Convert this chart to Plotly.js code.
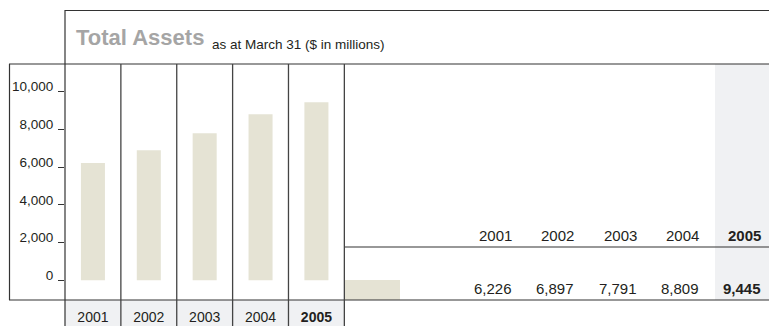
<!DOCTYPE html>
<html>
<head>
<meta charset="utf-8">
<script src="https://cdn.plot.ly/plotly-3.0.1.min.js"></script>
<style>html,body{margin:0;padding:0;background:#fff;}#chart{width:769px;height:326px;}</style>
</head>
<body>
<div id="chart"></div>
<script>
// ---- data ----
const years = ['2001', '2002', '2003', '2004', '2005'];
const totalAssets = [6226, 6897, 7791, 8809, 9445];
const valueLabels = ['6,226', '6,897', '7,791', '8,809', '9,445'];
const yTickVals = [0, 2000, 4000, 6000, 8000, 10000];
const yTickText = ['0', '2,000', '4,000', '6,000', '8,000', '10,000'];
const highlightYear = '2005';
const titleMain = 'Total Assets';
const titleSub = 'as at March 31 ($ in millions)';

// ---- helpers (pixel -> paper) ----
const W = 769, H = 326;
const px = x => x / W;
const py = y => 1 - y / H;

const BEIGE = '#e5e3d4';
const LIGHT = '#f0f1f3';
const LINE = '#333333';
const TEXT = '#231f20';
const SANS = '"Liberation Sans", Arial, Helvetica, sans-serif';

const boldIf = (s, y) => (y === highlightYear ? '<b>' + s + '</b>' : s);

const trace = {
  type: 'bar',
  x: years,
  y: totalAssets,
  width: 0.43,
  marker: { color: BEIGE, line: { width: 0 } },
  hoverinfo: 'x+y',
  showlegend: false
};

const shapes = [];
const hline = (x0, x1, y, color, w) => shapes.push({ type: 'line', xref: 'paper', yref: 'paper', x0: px(x0), x1: px(x1), y0: py(y), y1: py(y), line: { color: color || LINE, width: w || 1.2 } });
const vline = (x, y0, y1, color, w) => shapes.push({ type: 'line', xref: 'paper', yref: 'paper', x0: px(x), x1: px(x), y0: py(y0), y1: py(y1), line: { color: color || LINE, width: w || 1.2 } });
const rect = (x0, x1, y0, y1, fill) => shapes.push({ type: 'rect', xref: 'paper', yref: 'paper', layer: 'below', x0: px(x0), x1: px(x1), y0: py(y0), y1: py(y1), fillcolor: fill, line: { width: 0 } });

// background cells
rect(65, 345, 300, 326, LIGHT);
rect(715, 769, 64, 300, LIGHT);
// legend swatch
rect(345, 400, 280, 300, BEIGE);

// frame lines
hline(65, 769, 10.5);
vline(65, 10, 326);
hline(9, 769, 64);
vline(9.5, 64, 300);
hline(9, 769, 300);
hline(345, 769, 247);
// category separators (at category boundaries)
years.forEach((y, i) => {
  shapes.push({ type: 'line', xref: 'x', yref: 'paper', x0: i + 0.5, x1: i + 0.5, y0: 0, y1: py(64), line: { color: '#444', width: 1.3 } });
});

// table annotations
const annotations = [];
years.forEach((y, i) => {
  const xr = px(514 + i * 62.25);
  annotations.push({ xref: 'paper', yref: 'paper', x: xr, y: py(235.5), xanchor: 'right', yanchor: 'middle', showarrow: false, text: boldIf(y, y), font: { family: SANS, size: 15, color: TEXT } });
  annotations.push({ xref: 'paper', yref: 'paper', x: xr, y: py(288), xanchor: 'right', yanchor: 'middle', showarrow: false, text: boldIf(valueLabels[i], y), font: { family: SANS, size: 15, color: TEXT } });
});
// subtitle
annotations.push({ xref: 'paper', yref: 'paper', x: px(210), y: py(44.5), xanchor: 'left', yanchor: 'middle', showarrow: false, text: titleSub, font: { family: SANS, size: 13.5, color: TEXT } });

const layout = {
  width: W, height: H,
  margin: { l: 0, r: 0, t: 0, b: 0, pad: 0 },
  paper_bgcolor: '#ffffff',
  plot_bgcolor: 'rgba(0,0,0,0)',
  title: {
    text: '<b>' + titleMain + '</b>',
    x: px(76), xanchor: 'left', xref: 'paper',
    y: py(37), yanchor: 'middle', yref: 'paper',
    font: { family: SANS, size: 22, color: '#a5a5a5' }
  },
  xaxis: {
    domain: [px(65), px(345)],
    type: 'category',
    tickvals: years,
    ticktext: years.map(y => boldIf(y, y)),
    ticks: '', showline: false, showgrid: false, zeroline: false,
    ticklabelstandoff: 7,
    tickfont: { family: SANS, size: 14, color: TEXT },
    fixedrange: true
  },
  yaxis: {
    domain: [py(300), py(64)],
    range: [-1045, 11469],
    tickvals: yTickVals,
    ticktext: yTickText,
    ticks: 'outside', ticklen: 6, tickcolor: LINE, tickwidth: 1,
    ticklabelshift: -5,
    ticklabelstandoff: 2,
    showline: false, showgrid: false, zeroline: false,
    tickfont: { family: SANS, size: 13.5, color: TEXT },
    fixedrange: true
  },
  bargap: 0.57,
  shapes: shapes,
  annotations: annotations,
  showlegend: false
};

Plotly.newPlot('chart', [trace], layout, { displayModeBar: false, staticPlot: true });
</script>
</body>
</html>
